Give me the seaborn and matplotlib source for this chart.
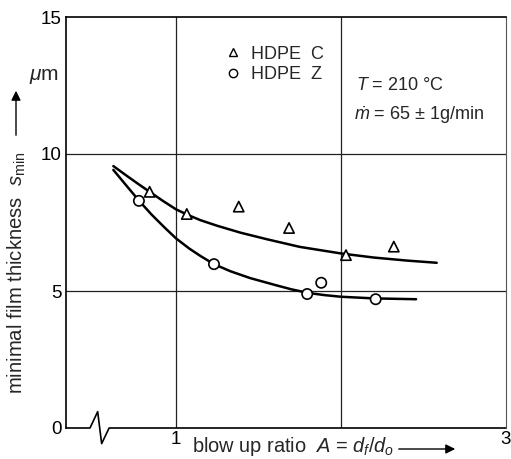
import matplotlib
matplotlib.use("Agg")
import matplotlib.pyplot as plt
import seaborn as sns
import pandas as pd
from matplotlib.lines import Line2D
from matplotlib.patches import FancyArrowPatch

# ---- data ----
c_x = [0.84, 1.065, 1.38, 1.685, 2.03, 2.32]
c_y = [8.62, 7.81, 8.08, 7.30, 6.31, 6.62]
z_x = [0.775, 1.23, 1.795, 1.88, 2.21]
z_y = [8.29, 5.98, 4.89, 5.30, 4.70]

# drawn trend curves
c_fit_x = [0.62, 0.70, 0.77, 0.84, 0.92, 1.00, 1.07, 1.15, 1.25, 1.39, 1.55,
           1.75, 2.00, 2.20, 2.40, 2.58]
c_fit_y = [9.56, 9.21, 8.91, 8.62, 8.29, 7.98, 7.78, 7.58, 7.38, 7.13, 6.89,
           6.61, 6.37, 6.22, 6.11, 6.03]
z_fit_x = [0.62, 0.70, 0.775, 0.85, 0.93, 1.00, 1.08, 1.15, 1.23, 1.33, 1.45,
           1.60, 1.70, 1.80, 1.90, 2.00, 2.20, 2.455]
z_fit_y = [9.42, 8.84, 8.30, 7.80, 7.32, 6.92, 6.55, 6.27, 5.98, 5.72, 5.47,
           5.22, 5.06, 4.93, 4.85, 4.79, 4.73, 4.70]

labels = ["HDPE  C", "HDPE  Z"]
y_ticks = [0, 5, 10, 15]
x_ticks = [1, 2, 3]
x_tick_labels = ["1", "", "3"]
grid_x = [1, 2]
grid_y = [5, 10]

# ---- style ----
sns.set_theme(style="white")
plt.rcParams["font.family"] = ["Liberation Sans", "DejaVu Sans"]
plt.rcParams["mathtext.fontset"] = "custom"
plt.rcParams["mathtext.rm"] = "Liberation Sans"
plt.rcParams["mathtext.it"] = "Liberation Sans:italic"
plt.rcParams["mathtext.sf"] = "Liberation Sans"

W, H = 511, 459
fig = plt.figure(figsize=(W / 100, H / 100), dpi=100)
ax = fig.add_axes([66 / W, 1 - 428 / H, 440 / W, 411 / H])


def fx(px):
    return px / W


def fy(py):
    return 1 - py / H


pts = pd.DataFrame({
    "x": c_x + z_x,
    "y": c_y + z_y,
    "material": [labels[0]] * len(c_x) + [labels[1]] * len(z_x),
})
curves = pd.DataFrame({
    "x": c_fit_x + z_fit_x,
    "y": c_fit_y + z_fit_y,
    "material": [labels[0]] * len(c_fit_x) + [labels[1]] * len(z_fit_x),
})

for g in grid_x:
    ax.axvline(g, color="#222222", lw=0.9, zorder=0)
for g in grid_y:
    ax.axhline(g, color="#222222", lw=0.9, zorder=0)

sns.lineplot(data=curves, x="x", y="y", units="material", estimator=None,
             sort=False, color="black", lw=1.8, ax=ax, legend=False)
sns.scatterplot(data=pts, x="x", y="y", style="material",
                markers={labels[0]: "^", labels[1]: "o"},
                s=55, facecolor="white", edgecolor="black", linewidth=1.2,
                ax=ax, legend=False, zorder=5)

ax.set_xlim(0.333, 3.0)
ax.set_ylim(0, 15)
ax.set_xticks(x_ticks)
ax.set_xticklabels(x_tick_labels)
ax.set_yticks(y_ticks)
ax.tick_params(axis="both", length=0, labelsize=13.5, colors="black")
ax.tick_params(axis="y", pad=3)
ax.tick_params(axis="x", pad=2)
ax.set_xlabel("")
ax.set_ylabel("")

for side in ["left", "top"]:
    ax.spines[side].set_color("black")
    ax.spines[side].set_linewidth(1.2)
ax.spines["right"].set_color("#555555")
ax.spines["right"].set_linewidth(0.8)
ax.spines["bottom"].set_visible(False)

# bottom axis with break symbol
bx = [0, 0.0545, 0.072, 0.081, 0.098, 1.0]
by = [0, 0, 0.0397, -0.038, 0, 0]
ax.plot(bx, by, transform=ax.transAxes, color="black", lw=1.2, clip_on=False)

# legend
handles = [
    Line2D([], [], ls="none", marker="^", ms=6, mfc="white", mec="black", mew=1.0),
    Line2D([], [], ls="none", marker="o", ms=6, mfc="white", mec="black", mew=1.0),
]
ax.legend(handles, labels, loc="center left", frameon=False,
          bbox_to_anchor=((224 - 66) / 440, 1 - (64.5 - 17) / 411),
          fontsize=13, handlelength=1.0, handletextpad=0.5,
          labelspacing=0.2, borderpad=0, borderaxespad=0)

# condition annotations
fig.text(fx(356), fy(86), r"$T$ = 210 °C", fontsize=13, ha="left", va="center")
fig.text(fx(354), fy(115), r"$\dot{m}$ = 65 ± 1g/min", fontsize=13,
         ha="left", va="center")

# unit label
fig.text(fx(44), fy(77), r"$\mu$m", fontsize=15, ha="center", va="center")

# y axis label with arrow
fig.text(fx(17), fy(273), r"minimal film thickness  $s_{\mathrm{min}}$",
         fontsize=14.6, rotation=90, ha="center", va="center")
fig.add_artist(FancyArrowPatch(
    (fx(16), fy(138)), (fx(16), fy(88)), transform=fig.transFigure,
    arrowstyle="-|>", mutation_scale=14, lw=1.0, color="black"))

# x axis label with arrow
fig.text(fx(192), fy(447), r"blow up ratio  $A$ = $d_f / d_o$", fontsize=14.4,
         ha="left", va="center")
fig.add_artist(FancyArrowPatch(
    (fx(396), fy(449)), (fx(458), fy(449)), transform=fig.transFigure,
    arrowstyle="-|>", mutation_scale=14, lw=1.0, color="black"))

fig.savefig("out.png", dpi=100)
